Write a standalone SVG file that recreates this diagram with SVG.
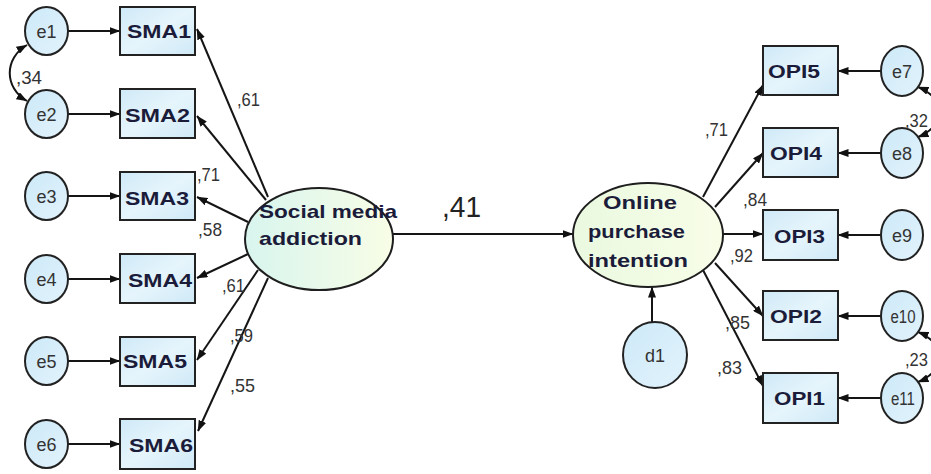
<svg xmlns="http://www.w3.org/2000/svg" width="931" height="474" viewBox="0 0 931 474">
<style>
.ln{stroke:#151515;stroke-width:2;fill:none}
.ar{marker-end:url(#ah)}
.cv{marker-start:url(#ah);marker-end:url(#ah)}
.ec{fill:url(#gBlue);stroke:#222;stroke-width:2}
.bx{fill:url(#gBox);stroke:#222;stroke-width:2}
.lat{stroke:#1e1e1e;stroke-width:2}
.et{font-family:"Liberation Sans",Arial,sans-serif;font-size:18px;fill:#333;text-anchor:middle}
.bt{font-family:"Liberation Sans",Arial,sans-serif;font-size:18.5px;font-weight:bold;fill:#1b1b3a}
.lt{font-family:"Liberation Sans",Arial,sans-serif;font-size:18.5px;font-weight:bold;fill:#1b1b3a}
.nl{font-family:"Liberation Sans",Arial,sans-serif;font-size:19px;fill:#333}
</style>
<defs>
<marker id="ah" viewBox="0 0 11 8" refX="10.5" refY="4" markerWidth="11" markerHeight="8" markerUnits="userSpaceOnUse" orient="auto-start-reverse">
<path d="M0,0 L11,4 L0,8 z" fill="#111"/>
</marker>
<linearGradient id="gBlue" x1="0" y1="0" x2="1" y2="1">
<stop offset="0" stop-color="#cde9f8"/>
<stop offset="1" stop-color="#e2f3fc"/>
</linearGradient>
<linearGradient id="gBox" x1="0" y1="0" x2="1" y2="1">
<stop offset="0" stop-color="#cfe9f7"/>
<stop offset="0.5" stop-color="#e6f5fc"/>
<stop offset="1" stop-color="#cfe9f7"/>
</linearGradient>
<linearGradient id="gSma" x1="0" y1="0" x2="1" y2="0">
<stop offset="0" stop-color="#d8f5ee"/>
<stop offset="1" stop-color="#f8fde6"/>
</linearGradient>
<linearGradient id="gOpi" x1="0" y1="0" x2="1" y2="0">
<stop offset="0" stop-color="#eaf9e0"/>
<stop offset="1" stop-color="#f8fde8"/>
</linearGradient>
</defs>

<g id="connectors">
<path class="ln ar" d="M68,31 L120,31"/>
<path class="ln ar" d="M68,114 L120,114"/>
<path class="ln ar" d="M68,196 L120,196"/>
<path class="ln ar" d="M68,279 L120,279"/>
<path class="ln ar" d="M68,361 L120,361"/>
<path class="ln ar" d="M68,444 L120,444"/>
<path class="ln cv" d="M27,45 C4,58 4,88 27,101"/>
<path class="ln ar" d="M268,197 L197,29"/>
<path class="ln ar" d="M266,200 L197,116"/>
<path class="ln ar" d="M248,222 L197,197"/>
<path class="ln ar" d="M248,254 L197,278"/>
<path class="ln ar" d="M258,270 L197,360"/>
<path class="ln ar" d="M268,278 L198,431"/>
<path class="ln ar" d="M393,234 L573,234"/>
<path class="ln ar" d="M652,322 L652,287"/>
<path class="ln ar" d="M703,197 L763,85"/>
<path class="ln ar" d="M715,207 L763,153"/>
<path class="ln ar" d="M723,234 L763,234"/>
<path class="ln ar" d="M715,263 L763,316"/>
<path class="ln ar" d="M703,270 L763,386"/>
<path class="ln ar" d="M882,71 L838,71"/>
<path class="ln ar" d="M882,153 L838,153"/>
<path class="ln ar" d="M882,235 L838,235"/>
<path class="ln ar" d="M882,316 L838,316"/>
<path class="ln ar" d="M882,398 L838,398"/>
<path class="ln cv" d="M918,87 C946,98 946,126 918,137"/>
<path class="ln cv" d="M918,332 C946,343 946,371 918,382"/>
</g>

<g id="e1"><ellipse class="ec" cx="46.5" cy="31" rx="21.5" ry="24"/><text class="et" x="46.5" y="37.5">e1</text></g>
<g id="e2"><ellipse class="ec" cx="46.5" cy="114" rx="21.5" ry="24"/><text class="et" x="46.5" y="120.5">e2</text></g>
<g id="e3"><ellipse class="ec" cx="46.5" cy="196" rx="21.5" ry="24"/><text class="et" x="46.5" y="202.5">e3</text></g>
<g id="e4"><ellipse class="ec" cx="46.5" cy="279" rx="21.5" ry="24"/><text class="et" x="46.5" y="285.5">e4</text></g>
<g id="e5"><ellipse class="ec" cx="46.5" cy="361" rx="21.5" ry="24"/><text class="et" x="46.5" y="367.5">e5</text></g>
<g id="e6"><ellipse class="ec" cx="46.5" cy="444" rx="21.5" ry="24"/><text class="et" x="46.5" y="450.5">e6</text></g>

<g id="SMA1"><rect class="bx" x="120" y="7" width="75" height="48"/><text class="bt" x="127" y="38" textLength="64" lengthAdjust="spacingAndGlyphs">SMA1</text></g>
<g id="SMA2"><rect class="bx" x="120" y="89" width="75" height="49"/><text class="bt" x="125" y="122" textLength="65" lengthAdjust="spacingAndGlyphs">SMA2</text></g>
<g id="SMA3"><rect class="bx" x="120" y="172" width="75" height="48"/><text class="bt" x="125" y="205" textLength="64" lengthAdjust="spacingAndGlyphs">SMA3</text></g>
<g id="SMA4"><rect class="bx" x="120" y="254" width="75" height="49"/><text class="bt" x="128" y="287" textLength="64" lengthAdjust="spacingAndGlyphs">SMA4</text></g>
<g id="SMA5"><rect class="bx" x="120" y="337" width="75" height="49"/><text class="bt" x="123" y="368" textLength="64" lengthAdjust="spacingAndGlyphs">SMA5</text></g>
<g id="SMA6"><rect class="bx" x="120" y="419" width="75" height="50"/><text class="bt" x="129" y="452" textLength="64" lengthAdjust="spacingAndGlyphs">SMA6</text></g>

<g id="social-media-addiction">
<ellipse cx="319" cy="239" rx="74" ry="51" fill="url(#gSma)" class="lat"/>
<text class="lt" x="259" y="218" textLength="138" lengthAdjust="spacingAndGlyphs">Social media</text>
<text class="lt" x="259" y="245" textLength="103" lengthAdjust="spacingAndGlyphs">addiction</text>
</g>

<g id="online-purchase-intention">
<ellipse cx="648" cy="235" rx="75" ry="52" fill="url(#gOpi)" class="lat"/>
<text class="lt" x="603" y="209" textLength="74" lengthAdjust="spacingAndGlyphs">Online</text>
<text class="lt" x="588" y="238" textLength="97" lengthAdjust="spacingAndGlyphs">purchase</text>
<text class="lt" x="588" y="267" textLength="100" lengthAdjust="spacingAndGlyphs">intention</text>
</g>

<g id="d1"><ellipse class="ec" cx="655" cy="355" rx="32" ry="33"/><text class="et" x="655" y="362">d1</text></g>

<g id="OPI5"><rect class="bx" x="763" y="46" width="75" height="49"/><text class="bt" x="768" y="78" textLength="52" lengthAdjust="spacingAndGlyphs">OPI5</text></g>
<g id="OPI4"><rect class="bx" x="763" y="128" width="75" height="49"/><text class="bt" x="770" y="160" textLength="52" lengthAdjust="spacingAndGlyphs">OPI4</text></g>
<g id="OPI3"><rect class="bx" x="763" y="210" width="75" height="50"/><text class="bt" x="774" y="243" textLength="51" lengthAdjust="spacingAndGlyphs">OPI3</text></g>
<g id="OPI2"><rect class="bx" x="763" y="291" width="75" height="49"/><text class="bt" x="770" y="323" textLength="52" lengthAdjust="spacingAndGlyphs">OPI2</text></g>
<g id="OPI1"><rect class="bx" x="763" y="373" width="75" height="50"/><text class="bt" x="774" y="405" textLength="51" lengthAdjust="spacingAndGlyphs">OPI1</text></g>

<g id="e7"><ellipse class="ec" cx="902" cy="71" rx="21" ry="25"/><text class="et" x="902" y="77.5">e7</text></g>
<g id="e8"><ellipse class="ec" cx="902" cy="153" rx="21" ry="25"/><text class="et" x="902" y="159.5">e8</text></g>
<g id="e9"><ellipse class="ec" cx="902" cy="235" rx="21" ry="25"/><text class="et" x="902" y="241.5">e9</text></g>
<g id="e10"><ellipse class="ec" cx="902" cy="316" rx="21" ry="25"/><text class="et" x="903" y="322.5" textLength="25" lengthAdjust="spacingAndGlyphs">e10</text></g>
<g id="e11"><ellipse class="ec" cx="902" cy="398" rx="21" ry="25"/><text class="et" x="903" y="404.5" textLength="24" lengthAdjust="spacingAndGlyphs">e11</text></g>

<g id="labels">
<text class="nl" x="16" y="84" textLength="26" lengthAdjust="spacingAndGlyphs">,34</text>
<text class="nl" x="237" y="106" textLength="23" lengthAdjust="spacingAndGlyphs">,61</text>
<text class="nl" x="197" y="181" textLength="23" lengthAdjust="spacingAndGlyphs">,71</text>
<text class="nl" x="198" y="236" textLength="24" lengthAdjust="spacingAndGlyphs">,58</text>
<text class="nl" x="222" y="292" textLength="23" lengthAdjust="spacingAndGlyphs">,61</text>
<text class="nl" x="230" y="342" textLength="23" lengthAdjust="spacingAndGlyphs">,59</text>
<text class="nl" x="230" y="392" textLength="25" lengthAdjust="spacingAndGlyphs">,55</text>
<text x="442" y="217" font-family="Liberation Sans, Arial, sans-serif" font-size="30" fill="#222" textLength="39" lengthAdjust="spacingAndGlyphs">,41</text>
<text class="nl" x="705" y="136" textLength="23" lengthAdjust="spacingAndGlyphs">,71</text>
<text class="nl" x="743" y="206" textLength="24" lengthAdjust="spacingAndGlyphs">,84</text>
<text class="nl" x="730" y="262" textLength="23" lengthAdjust="spacingAndGlyphs">,92</text>
<text class="nl" x="725" y="329" textLength="25" lengthAdjust="spacingAndGlyphs">,85</text>
<text class="nl" x="717" y="374" textLength="25" lengthAdjust="spacingAndGlyphs">,83</text>
<text class="nl" x="905" y="127" textLength="23" lengthAdjust="spacingAndGlyphs">,32</text>
<text class="nl" x="905" y="366" textLength="23" lengthAdjust="spacingAndGlyphs">,23</text>
</g>
</svg>
